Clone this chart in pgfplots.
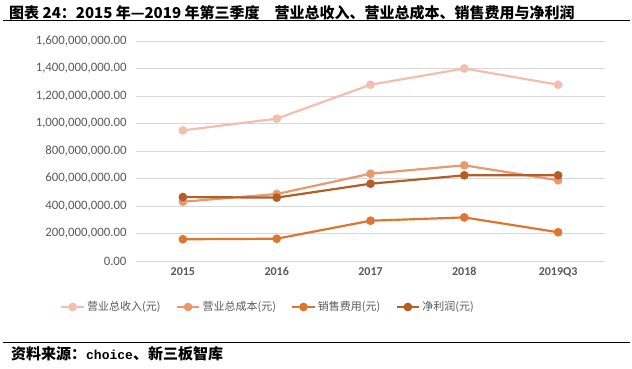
\documentclass[border=0pt]{standalone}
\usepackage{pgfplots}
\pgfplotsset{compat=1.18}
\usepackage{fontspec}
\setmainfont{Carlito}
\newfontfamily\cjk{Noto Sans CJK SC}
\newfontfamily\mono{Liberation Mono}
\definecolor{cRev}{RGB}{244,190,175}
\definecolor{cCost}{RGB}{234,152,112}
\definecolor{cSale}{RGB}{222,118,48}
\definecolor{cNet}{RGB}{178,94,38}
\definecolor{tgray}{RGB}{89,89,89}
\definecolor{ggray}{RGB}{217,217,217}
\begin{document}
\begin{tikzpicture}
\useasboundingbox (0pt,0pt) rectangle (632pt,369pt);
\node[anchor=west,inner sep=0] at (9pt,356pt) {\fontsize{15}{17}\selectfont\cjk\bfseries 图表 24：2015 年—2019 年第三季度\hspace{1em}营业总收入、营业总成本、销售费用与净利润};
\draw[line width=1pt] (3pt,348.3pt) -- (630pt,348.3pt);
\draw[line width=1pt] (3pt,26.3pt) -- (630pt,26.3pt);
\node[anchor=west,inner sep=0] at (11pt,15pt) {\fontsize{15}{17}\selectfont\cjk\bfseries 资料来源：{\mono\fontsize{13}{15}\selectfont choice}、新三板智库};
\begin{axis}[
  at={(136pt,108pt)}, anchor=south west,
  scale only axis, width=469pt, height=220pt,
  xmin=-0.5, xmax=4.5, ymin=0, ymax=1.6e9,
  scaled y ticks=false,
  xtick={0,1,2,3,4},
  xticklabels={2015,2016,2017,2018,2019Q3},
  ytick={0,2e8,4e8,6e8,8e8,1e9,1.2e9,1.4e9,1.6e9},
  yticklabels={0.00,{200,000,000.00},{400,000,000.00},{600,000,000.00},{800,000,000.00},{1,000,000,000.00},{1,200,000,000.00},{1,400,000,000.00},{1,600,000,000.00}},
  axis line style={draw=none},
  major tick length=0pt,
  ymajorgrids, grid style={ggray, line width=0.8pt},
  yticklabel style={font=\fontsize{12.8}{14}\selectfont, text=tgray, xshift=-6pt},
  xticklabel style={font=\fontsize{12}{14}\selectfont\bfseries, text=tgray, yshift=-3pt},
  legend style={at={(-0.162,-0.209)}, anchor=west, draw=none, fill=none, inner sep=0pt,
    font=\fontsize{11}{13}\selectfont\cjk, text=tgray, legend columns=4,
    /tikz/every even column/.append style={column sep=13pt}},
  legend image code/.code={\draw[#1] (0cm,0cm) -- (0.8cm,0cm); \draw[#1,mark repeat=2,mark phase=2] plot coordinates {(0cm,0cm) (0.4cm,0cm) (0.8cm,0cm)};},
  every axis plot/.append style={line width=2.2pt, mark=*, mark size=3.2pt, mark options={solid}},
]
\addplot[cRev, mark options={fill=cRev,draw=cRev}] coordinates {(0,950e6) (1,1035e6) (2,1282e6) (3,1400e6) (4,1282e6)};
\addlegendentry{营业总收入(元)}
\addplot[cCost, mark options={fill=cCost,draw=cCost}] coordinates {(0,431e6) (1,487e6) (2,635e6) (3,696e6) (4,587e6)};
\addlegendentry{营业总成本(元)}
\addplot[cSale, mark options={fill=cSale,draw=cSale}] coordinates {(0,158e6) (1,162e6) (2,293e6) (3,317e6) (4,209e6)};
\addlegendentry{销售费用(元)}
\addplot[cNet, mark options={fill=cNet,draw=cNet}] coordinates {(0,465e6) (1,461e6) (2,562e6) (3,623e6) (4,623e6)};
\addlegendentry{净利润(元)}
\end{axis}
\end{tikzpicture}
\end{document}
